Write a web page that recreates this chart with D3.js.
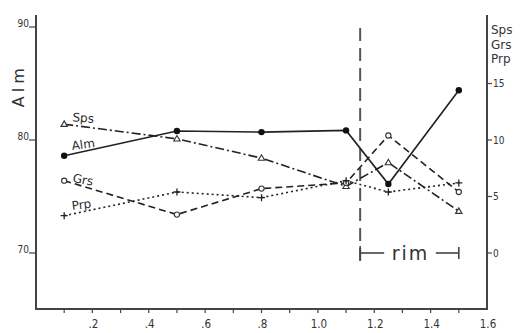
<!DOCTYPE html>
<html>
<head>
<meta charset="utf-8">
<script src="https://cdn.jsdelivr.net/npm/d3@7"></script>
<style>
  body { margin: 0; background: #fff; }
  svg { display: block; font-family: 'DejaVu Sans Condensed', 'DejaVu Sans', sans-serif; }
  .axis path, .axis line { stroke: #444; }
  .axis text { fill: #333; }
</style>
</head>
<body>
<script>
const width = 525
const height = 333

// distance (x) and compositions
const xs = [0.1, 0.5, 0.8, 1.1, 1.25, 1.5]
const alm = [78.6, 80.8, 80.7, 80.85, 76.1, 84.4]
const sps = [11.4, 10.1, 8.4, 5.9, 8.0, 3.7]
const grs = [6.4, 3.4, 5.7, 6.2, 10.4, 5.4]
const prp = [3.3, 5.4, 4.9, 6.4, 5.4, 6.2]

const xTicks = [0.2, 0.4, 0.6, 0.8, 1.0, 1.2, 1.4, 1.6]
const xMinor = [0.1, 0.3, 0.5, 0.7, 0.9, 1.1, 1.3, 1.5]
const leftTicks = [70, 80, 90]
const rightTicks = [0, 5, 10, 15]
const rightTitles = ['Sps', 'Grs', 'Prp']
const rimStart = 1.15
const rimEnd = 1.5

const svg = d3.select('body').append('svg')
  .attr('width', width)
  .attr('height', height)

const x = d3.scaleLinear().domain([0, 1.6]).range([36, 487])
const yL = d3.scaleLinear().domain([70, 90]).range([253, 27])
const yR = d3.scaleLinear().domain([0, 20]).range([253, 27])
const frameTop = 15
const frameBottom = 309

// frame lines
svg.append('line').attr('x1', x(0)).attr('x2', x(0)).attr('y1', frameTop).attr('y2', frameBottom)
  .attr('stroke', '#444').attr('stroke-width', 2)
svg.append('line').attr('x1', x(1.6)).attr('x2', x(1.6)).attr('y1', frameTop).attr('y2', frameBottom)
  .attr('stroke', '#444').attr('stroke-width', 2)
svg.append('line').attr('x1', x(0) - 1).attr('x2', x(1.6) + 1).attr('y1', frameBottom).attr('y2', frameBottom)
  .attr('stroke', '#444').attr('stroke-width', 2)

// bottom axis
const xAxis = svg.append('g').attr('class', 'axis')
xAxis.selectAll('.minor').data(xMinor.concat(xTicks.slice(0, -1)))
  .enter().append('line')
  .attr('x1', d => x(d)).attr('x2', d => x(d))
  .attr('y1', frameBottom).attr('y2', frameBottom + 4)
  .attr('stroke-width', 1.2)
xAxis.selectAll('text').data(xTicks)
  .enter().append('text')
  .attr('x', d => x(d) + 1)
  .attr('y', frameBottom + 19)
  .attr('text-anchor', 'middle')
  .attr('font-size', 11.5)
  .text(d => d < 1 ? d3.format('.1f')(d).slice(1) : d3.format('.1f')(d))

// left axis
const lAxis = svg.append('g').attr('class', 'axis')
lAxis.selectAll('line').data(leftTicks).enter().append('line')
  .attr('x1', x(0) - 7).attr('x2', x(0))
  .attr('y1', d => yL(d)).attr('y2', d => yL(d))
  .attr('stroke-width', 1.2)
lAxis.selectAll('text').data(leftTicks).enter().append('text')
  .attr('x', x(0) - 7).attr('y', d => yL(d))
  .attr('text-anchor', 'end')
  .attr('font-size', 10)
  .text(d => d)

// right axis
const rAxis = svg.append('g').attr('class', 'axis')
rAxis.selectAll('line').data(rightTicks).enter().append('line')
  .attr('x1', x(1.6)).attr('x2', x(1.6) + 5)
  .attr('y1', d => yR(d)).attr('y2', d => yR(d))
  .attr('stroke-width', 1.2)
rAxis.selectAll('text').data(rightTicks).enter().append('text')
  .attr('x', x(1.6) + 6).attr('y', d => yR(d))
  .attr('dy', '0.35em')
  .attr('font-size', 10)
  .text(d => d)

// axis titles
svg.append('text')
  .attr('transform', `translate(24,${yL(84.8)}) rotate(-90)`)
  .attr('text-anchor', 'middle')
  .attr('font-family', 'DejaVu Sans')
  .attr('font-size', 16)
  .attr('letter-spacing', 4)
  .attr('fill', '#333')
  .text('Alm')
svg.selectAll('.rtitle').data(rightTitles)
  .enter().append('text')
  .attr('x', x(1.6) + 4)
  .attr('y', (d, i) => 34 + i * 14.5)
  .attr('font-family', 'DejaVu Sans')
  .attr('font-size', 12)
  .attr('fill', '#333')
  .text(d => d)

// rim boundary
svg.append('line')
  .attr('x1', x(rimStart)).attr('x2', x(rimStart))
  .attr('y1', 28).attr('y2', 266)
  .attr('stroke', '#555').attr('stroke-width', 2)
  .attr('stroke-dasharray', '13,7')
const rimY = yR(0)
const rim = svg.append('g').attr('stroke', '#444').attr('stroke-width', 1.6)
rim.append('line').attr('x1', x(rimStart)).attr('x2', x(rimStart) + 24).attr('y1', rimY).attr('y2', rimY)
rim.append('line').attr('x1', x(rimEnd) - 23).attr('x2', x(rimEnd)).attr('y1', rimY).attr('y2', rimY)
rim.append('line').attr('x1', x(rimEnd)).attr('x2', x(rimEnd)).attr('y1', rimY - 6).attr('y2', rimY + 6)
rim.append('line').attr('x1', x(rimStart)).attr('x2', x(rimStart)).attr('y1', rimY - 7).attr('y2', rimY + 7)
svg.append('text')
  .attr('x', (x(rimStart) + x(rimEnd)) / 2 + 1)
  .attr('y', rimY + 7)
  .attr('text-anchor', 'middle')
  .attr('font-family', 'DejaVu Sans')
  .attr('font-size', 19)
  .attr('letter-spacing', 2)
  .attr('fill', '#333')
  .text('rim')

// series
const series = [
  { name: 'Alm', values: alm, y: yL, dash: null, marker: 'dot', dy: -4 },
  { name: 'Sps', values: sps, y: yR, dash: '9,3,2,3', marker: 'tri', dy: -4 },
  { name: 'Grs', values: grs, y: yR, dash: '7,4', marker: 'circle', dy: -1 },
  { name: 'Prp', values: prp, y: yR, dash: '2,3', marker: 'plus', dy: -4 }
]

series.forEach(s => {
  const pts = xs.map((d, i) => [x(d), s.y(s.values[i])])
  svg.append('path')
    .attr('d', d3.line()(pts))
    .attr('fill', 'none')
    .attr('stroke', '#222')
    .attr('stroke-width', 1.6)
    .attr('stroke-dasharray', s.dash)

  const g = svg.append('g')
  pts.forEach(p => {
    if (s.marker === 'dot') {
      g.append('circle').attr('cx', p[0]).attr('cy', p[1]).attr('r', 3.2).attr('fill', '#111')
    } else if (s.marker === 'circle') {
      g.append('circle').attr('cx', p[0]).attr('cy', p[1]).attr('r', 2.6)
        .attr('fill', '#fff').attr('stroke', '#333').attr('stroke-width', 1.1)
    } else if (s.marker === 'tri') {
      g.append('path')
        .attr('d', `M${p[0]},${p[1] - 3.3}L${p[0] + 3.2},${p[1] + 2.2}L${p[0] - 3.2},${p[1] + 2.2}Z`)
        .attr('fill', '#fff').attr('stroke', '#333').attr('stroke-width', 1.1)
    } else {
      g.append('path')
        .attr('d', `M${p[0] - 3.5},${p[1]}H${p[0] + 3.5}M${p[0]},${p[1] - 3.5}V${p[1] + 3.5}`)
        .attr('stroke', '#222').attr('stroke-width', 1.3)
    }
  })

  // label along first segment
  const ang = Math.atan2(pts[1][1] - pts[0][1], pts[1][0] - pts[0][0]) * 180 / Math.PI
  const lx = pts[0][0] + 8
  const ly = pts[0][1] + (pts[1][1] - pts[0][1]) / (pts[1][0] - pts[0][0]) * 8 + s.dy
  svg.append('text')
    .attr('transform', `translate(${lx},${ly}) rotate(${ang * 0.6})`)
    .attr('font-family', 'DejaVu Sans')
    .attr('font-size', 12)
    .attr('fill', '#2a2a2a')
    .text(s.name)
})
</script>
</body>
</html>
